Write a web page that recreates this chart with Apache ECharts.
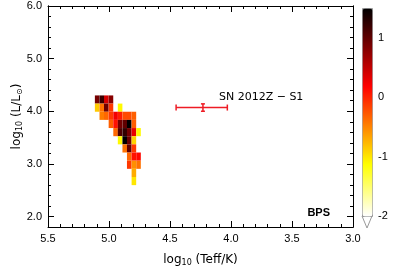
<!DOCTYPE html>
<html>
<head>
<meta charset="utf-8">
<script src="https://cdn.jsdelivr.net/npm/echarts@6/dist/echarts.min.js"></script>
<style>
html,body{margin:0;padding:0;background:#fff;}
#c{width:399px;height:268px;}
</style>
</head>
<body>
<div id="c"></div>
<script>
// ---- data ----
const logTeffBins = [5.097, 5.059, 5.022, 4.984, 4.946, 4.909, 4.871, 4.834, 4.796, 4.758];
const logLBins = [4.223, 4.068, 3.913, 3.758, 3.603, 3.448, 3.293, 3.138, 2.983, 2.828, 2.673];
const density = [
  [0.9, 1.2, 0.4, 0.8, null, null, null, null, null, null],
  [-0.85, -0.4, 0.95, -0.1, null, -1.1, null, null, null, null],
  [null, -0.45, -0.35, -0.1, 0.25, 0.05, -0.2, -0.2, -0.3, null],
  [null, null, null, -0.3, 0.1, 0.9, 1.0, 1.5, -0.3, null],
  [null, null, null, null, -0.35, 1.1, 1.25, 0.9, 0.3, -1.1],
  [null, null, null, null, null, -1.1, 1.5, 0.95, -0.9, null],
  [null, null, null, null, null, null, -0.4, 1.0, -0.1, null],
  [null, null, null, null, null, null, null, -0.35, 0.1, 0.15],
  [null, null, null, null, null, null, null, -0.1, -0.55, -0.4],
  [null, null, null, null, null, null, null, null, -0.7, null],
  [null, null, null, null, null, null, null, null, -1.0, null]
];
const snPoint = [4.23, 4.07];
const snTeffRange = [4.45, 4.03];
const snLogLRange = [4.00, 4.14];
const snLabel = 'SN 2012Z \u2212 S1';
const yMajorTicks = [2, 3, 4, 5, 6];
const yMinorTicks = [1.8, 2.2, 2.4, 2.6, 2.8, 3.2, 3.4, 3.6, 3.8, 4.2, 4.4, 4.6, 4.8, 5.2, 5.4, 5.6, 5.8];
const cbarTicks = [-2, -1, 0, 1];
const cbarRange = [-2, 1.5];

// ---- bin sizes ----
const DT = 0.0376, DL = 0.155;

const cells = [];
density.forEach((row, r) => row.forEach((v, c) => {
  if (v !== null) cells.push([logTeffBins[c], logLBins[r], v]);
}));

const chart = echarts.init(document.getElementById('c'), null, {renderer: 'canvas'});
const FONT = 'Liberation Sans';
const black = '#000';

function yAx(pos, ticks, len, labels) {
  return {
    gridIndex: 0, type: 'value', position: pos, min: 1.8, max: 6.0,
    axisLine: {show: true, lineStyle: {color: black, width: 1}},
    axisTick: {show: true, inside: true, length: len, customValues: ticks, lineStyle: {color: black}},
    axisLabel: labels ? {show: true, customValues: yMajorTicks, formatter: v => v.toFixed(1), fontSize: 11, color: black, fontFamily: FONT, margin: 6} : {show: false},
    splitLine: {show: false}
  };
}
function xAx(pos, labels) {
  const a = {
    gridIndex: 0, type: 'value', position: pos, min: 3.0, max: 5.5, interval: 0.5, inverse: true,
    axisLine: {show: true, lineStyle: {color: black, width: 1}},
    axisTick: {show: true, inside: true, length: 6, lineStyle: {color: black}},
    minorTick: {show: true, splitNumber: 5, length: 3, lineStyle: {color: black}},
    axisLabel: labels ? {show: true, formatter: v => v.toFixed(1), fontSize: 11, color: black, fontFamily: FONT, margin: 6} : {show: false},
    splitLine: {show: false}
  };
  if (labels) {
    a.name = '{n|log}{s|10}{n| (Teff/K)}';
    a.nameLocation = 'middle';
    a.nameGap = 26;
    a.nameMoveOverlap = false;
    a.nameTextStyle = {rich: {
      n: {fontSize: 12, fontFamily: 'DejaVu Sans', color: black},
      s: {fontSize: 8, fontFamily: 'DejaVu Sans', color: black, padding: [6, 0, 0, 0]}
    }};
  }
  return a;
}

const y0 = yAx('left', yMajorTicks, 6, true);
y0.name = '{n|log}{s|10}{n| (L/L}{s|\u2299}{n|)}';
y0.nameLocation = 'middle';
y0.nameGap = 24;
y0.nameMoveOverlap = false;
y0.nameTextStyle = {rich: {
  n: {fontSize: 12, fontFamily: 'DejaVu Sans', color: black},
  s: {fontSize: 8, fontFamily: 'DejaVu Sans', color: black, padding: [6, 0, 0, 0]}
}};

const option = {
  backgroundColor: '#fff',
  animation: false,
  grid: [
    {left: 48, right: 46, top: 6, bottom: 41, containLabel: false, outerBoundsMode: 'none'},
    {left: 362, width: 10, top: 8, height: 208, containLabel: false, outerBoundsMode: 'none'}
  ],
  title: {text: 'BPS', right: 69, top: 207, padding: 0,
    textStyle: {fontSize: 11, fontWeight: 'bold', fontFamily: FONT, color: black}},
  xAxis: [
    xAx('bottom', true),
    xAx('top', false),
    {gridIndex: 1, type: 'value', show: false, min: 0, max: 1}
  ],
  yAxis: [
    y0,
    yAx('left', yMinorTicks, 3, false),
    yAx('right', yMajorTicks, 6, false),
    yAx('right', yMinorTicks, 3, false),
    {gridIndex: 1, type: 'value', position: 'right', min: cbarRange[0], max: cbarRange[1],
      axisLine: {show: false}, axisTick: {show: false}, splitLine: {show: false},
      axisLabel: {show: true, customValues: cbarTicks, fontSize: 11, color: black, fontFamily: FONT, margin: 6}}
  ],
  visualMap: {
    type: 'continuous', min: cbarRange[0], max: cbarRange[1], dimension: 2, seriesIndex: 0,
    left: 362, top: 8, itemWidth: 10, itemHeight: 208, padding: 0, calculable: false,
    borderColor: '#999', borderWidth: 1,
    inRange: {color: ['#ffffff', '#ffff80', '#ffff00', '#ffaa00', '#ff5500', '#ff0000', '#aa0000', '#550000', '#000000']}
  },
  graphic: [
    {type: 'polygon', shape: {points: [[362, 216], [372, 216], [367, 228]]},
      style: {fill: '#fff', stroke: '#999', lineWidth: 1}}
  ],
  series: [
    {
      type: 'custom', xAxisIndex: 0, yAxisIndex: 0, data: cells,
      encode: {x: 0, y: 1},
      renderItem: function (params, api) {
        const t = api.value(0), l = api.value(1);
        const p0 = api.coord([t + DT / 2, l + DL / 2]);
        const p1 = api.coord([t - DT / 2, l - DL / 2]);
        return {
          type: 'rect',
          shape: {x: Math.min(p0[0], p1[0]), y: Math.min(p0[1], p1[1]),
            width: Math.abs(p1[0] - p0[0]), height: Math.abs(p1[1] - p0[1])},
          style: {fill: api.visual('color')}
        };
      }
    },
    {
      type: 'custom', xAxisIndex: 0, yAxisIndex: 0,
      data: [[snPoint[0], snPoint[1], snTeffRange[0], snTeffRange[1], snLogLRange[0], snLogLRange[1]]],
      encode: {x: 0, y: 1},
      renderItem: function (params, api) {
        const t = api.value(0), l = api.value(1);
        const pc = api.coord([t, l]);
        const pl = api.coord([api.value(2), l]);
        const pr = api.coord([api.value(3), l]);
        const pb = api.coord([t, api.value(4)]);
        const pt = api.coord([t, api.value(5)]);
        const st = {stroke: '#ee1c25', lineWidth: 1.5};
        return {
          type: 'group',
          children: [
            {type: 'line', shape: {x1: pl[0], y1: pl[1], x2: pr[0], y2: pr[1]}, style: st},
            {type: 'line', shape: {x1: pl[0], y1: pl[1] - 3, x2: pl[0], y2: pl[1] + 3}, style: st},
            {type: 'line', shape: {x1: pr[0], y1: pr[1] - 3, x2: pr[0], y2: pr[1] + 3}, style: st},
            {type: 'line', shape: {x1: pt[0], y1: pt[1], x2: pb[0], y2: pb[1]}, style: st},
            {type: 'line', shape: {x1: pt[0] - 2, y1: pt[1], x2: pt[0] + 2, y2: pt[1]}, style: st},
            {type: 'line', shape: {x1: pb[0] - 2, y1: pb[1], x2: pb[0] + 2, y2: pb[1]}, style: st},
            {type: 'text', x: pc[0] + 16, y: pc[1] - 10,
              style: {text: snLabel, fill: black, fontSize: 11, fontFamily: 'DejaVu Sans', align: 'left', verticalAlign: 'middle'}}
          ]
        };
      }
    }
  ]
};
chart.setOption(option);
</script>
</body>
</html>
